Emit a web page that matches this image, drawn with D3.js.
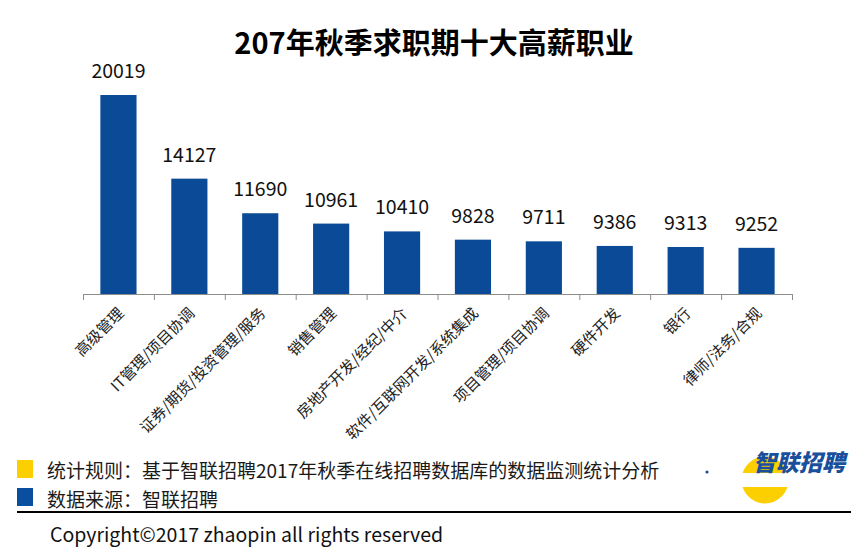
<!DOCTYPE html>
<html>
<head>
<meta charset="utf-8">
<script src="https://cdn.jsdelivr.net/npm/d3@7/dist/d3.min.js"></script>
<style>
  body { margin: 0; background: #fff; }
  text { font-family: "Noto Sans CJK SC", "Noto Sans", sans-serif; }
</style>
</head>
<body>
<div id="chart"></div>
<script>
// data
var jobs = ["高级管理", "IT管理/项目协调", "证券/期货/投资管理/服务", "销售管理",
  "房地产开发/经纪/中介", "软件/互联网开发/系统集成", "项目管理/项目协调",
  "硬件开发", "银行", "律师/法务/合规"];
var salary = [20019, 14127, 11690, 10961, 10410, 9828, 9711, 9386, 9313, 9252];
var notes = ["统计规则：基于智联招聘2017年秋季在线招聘数据库的数据监测统计分析", "数据来源：智联招聘"];

var svgWidth = 865;
var svgHeight = 553;

var svg = d3.select("#chart")
  .append("svg")
  .attr("width", svgWidth)
  .attr("height", svgHeight);

// plot area
var left = 83, right = 792, base = 294;

var xScale = d3.scaleBand()
  .domain(jobs)
  .range([left, right])
  .paddingInner(0.49)
  .paddingOuter(0.245);

// axis does not start at zero in the original
var yScale = d3.scaleLinear()
  .domain([6000, 22000])
  .range([base, base - 227.1]);

// title
svg.append("text")
  .attr("x", 434)
  .attr("y", 54)
  .attr("text-anchor", "middle")
  .attr("font-size", 29)
  .attr("font-weight", 700)
  .attr("fill", "#000")
  .text("207年秋季求职期十大高薪职业");

// bars
svg.selectAll(".bar")
  .data(salary)
  .enter()
  .append("rect")
  .attr("class", "bar")
  .attr("x", (d, i) => xScale(jobs[i]))
  .attr("y", d => yScale(d))
  .attr("width", xScale.bandwidth())
  .attr("height", d => base - yScale(d))
  .attr("fill", "#0a4a96");

// value labels
svg.selectAll(".val")
  .data(salary)
  .enter()
  .append("text")
  .attr("class", "val")
  .attr("x", (d, i) => xScale(jobs[i]) + xScale.bandwidth() / 2)
  .attr("y", d => yScale(d) - 17)
  .attr("text-anchor", "middle")
  .attr("font-size", 19.5)
  .attr("fill", "#111")
  .text(d => d);

// x axis: ticks between categories
var step = xScale.step();
var axis = svg.append("g");
axis.append("line")
  .attr("x1", left).attr("x2", right)
  .attr("y1", base + 0.5).attr("y2", base + 0.5)
  .attr("stroke", "#8c8c8c");
axis.selectAll(".tick")
  .data(d3.range(jobs.length + 1))
  .enter()
  .append("line")
  .attr("x1", i => left + i * step + 0.5)
  .attr("x2", i => left + i * step + 0.5)
  .attr("y1", base)
  .attr("y2", base + 6)
  .attr("stroke", "#8c8c8c");

// rotated category labels
axis.selectAll(".lab")
  .data(jobs)
  .enter()
  .append("text")
  .attr("class", "lab")
  .attr("transform", d => `translate(${xScale(d) + xScale.bandwidth() / 2 - 4}, 304) rotate(-45)`)
  .attr("text-anchor", "end")
  .attr("dominant-baseline", "hanging")
  .attr("font-size", 15.2)
  .attr("fill", "#222")
  .text(d => d);

// notes at the bottom
var noteColors = ["#fccf00", "#0a4ea0"];
svg.selectAll(".sq")
  .data(notes)
  .enter()
  .append("rect")
  .attr("x", 17)
  .attr("y", (d, i) => 460 + i * 28)
  .attr("width", 16)
  .attr("height", 18)
  .attr("fill", (d, i) => noteColors[i]);

svg.selectAll(".note")
  .data(notes)
  .enter()
  .append("text")
  .attr("x", 47)
  .attr("y", (d, i) => 469 + i * 29)
  .attr("dominant-baseline", "central")
  .attr("font-size", 19)
  .attr("fill", "#1a1a1a")
  .text(d => d);

svg.append("line")
  .attr("x1", 17).attr("x2", 851)
  .attr("y1", 512).attr("y2", 512)
  .attr("stroke", "#000")
  .attr("stroke-width", 2.2);

svg.append("text")
  .attr("x", 50)
  .attr("y", 533)
  .attr("dominant-baseline", "central")
  .attr("font-size", 19.5)
  .attr("fill", "#111")
  .text("Copyright©2017 zhaopin all rights reserved");

// logo
var logo = svg.append("g");
logo.append("circle")
  .attr("cx", 765).attr("cy", 480).attr("r", 23.5)
  .attr("fill", "#fcd000");
logo.append("rect")
  .attr("x", 690).attr("y", 473).attr("width", 175).attr("height", 14)
  .attr("fill", "#fff");
logo.append("circle")
  .attr("cx", 707).attr("cy", 472).attr("r", 1.6)
  .attr("fill", "#1a4f9c");
logo.append("text")
  .attr("x", 799)
  .attr("y", 471)
  .attr("text-anchor", "middle")
  .attr("font-size", 23)
  .attr("font-weight", 900)
  .attr("font-style", "italic")
  .attr("fill", "#1a4f9c")
  .text("智联招聘");
</script>
</body>
</html>
